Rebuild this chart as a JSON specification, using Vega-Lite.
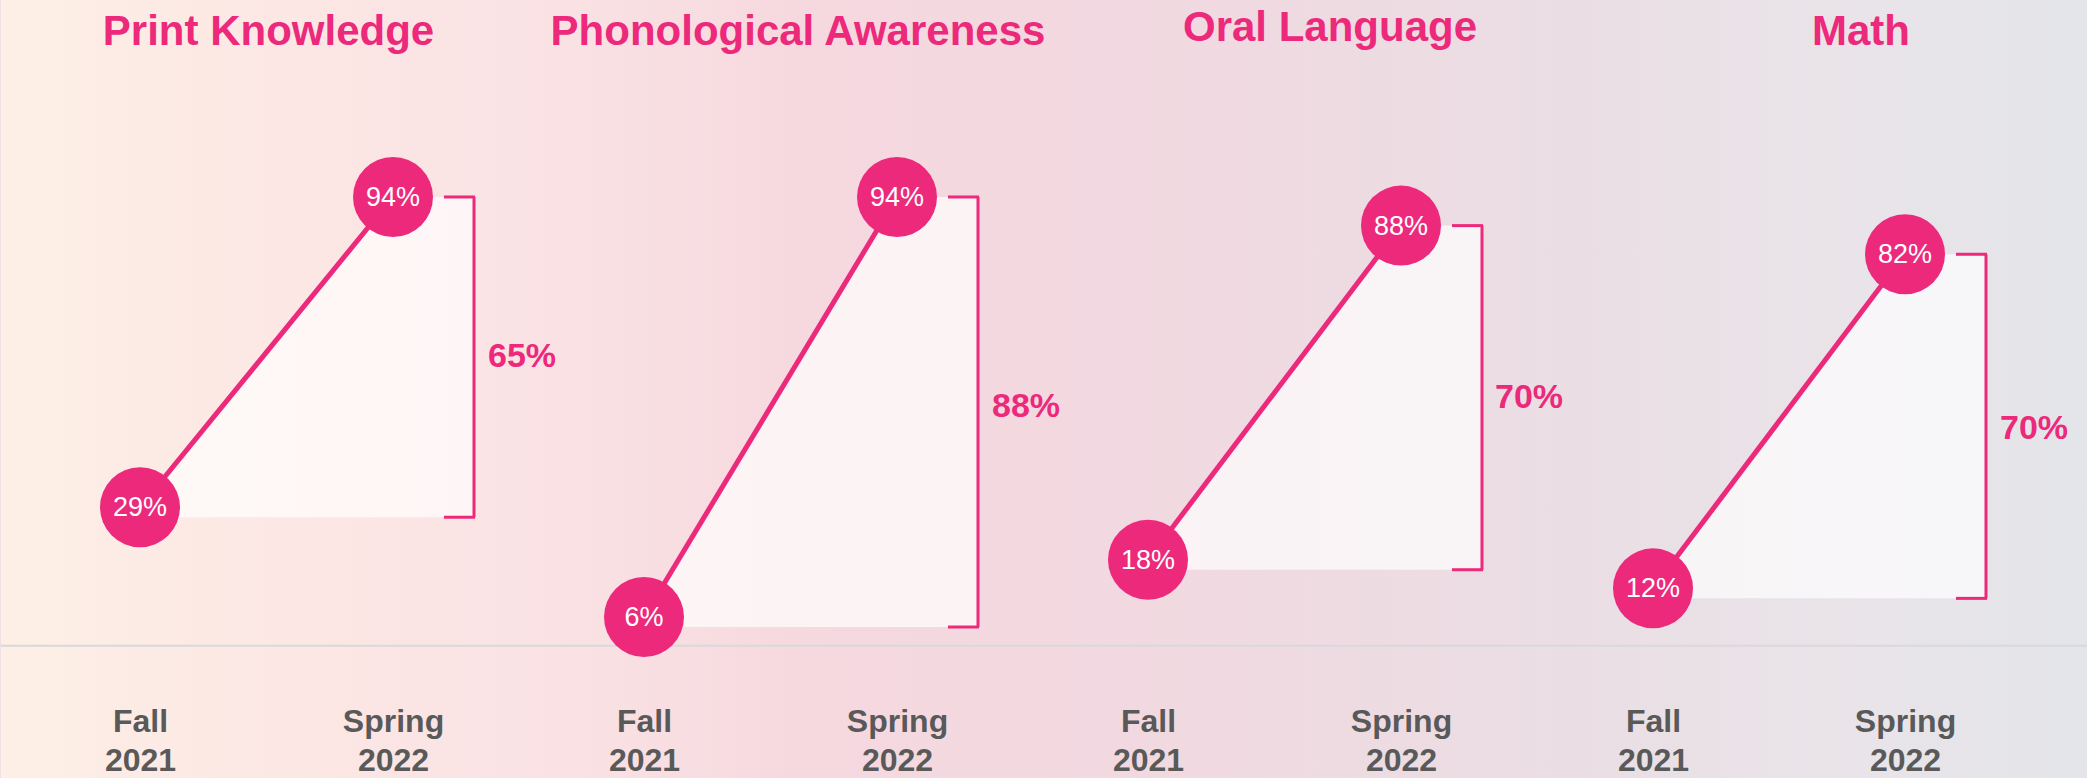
{
  "$schema": "https://vega.github.io/schema/vega-lite/v6.json",
  "background": "#f3e0e4",
  "padding": 0,
  "spacing": 0,
  "bounds": "flush",
  "data": {
    "values": [
      {"subject": "Print Knowledge", "Fall 2021": 0.29, "Spring 2022": 0.94, "change": 0.65},
      {"subject": "Phonological Awareness", "Fall 2021": 0.06, "Spring 2022": 0.94, "change": 0.88},
      {"subject": "Oral Language", "Fall 2021": 0.18, "Spring 2022": 0.88, "change": 0.70},
      {"subject": "Math", "Fall 2021": 0.12, "Spring 2022": 0.82, "change": 0.70}
    ]
  },
  "hconcat": [
    {
      "width": 565, "height": 778,
      "view": {"stroke": null, "fill": {"gradient": "linear", "x1": 0, "y1": 0, "x2": 1, "y2": 0, "stops": [{"offset": 0, "color": "#fdefe6"}, {"offset": 0.45, "color": "#fce8e4"}, {"offset": 1, "color": "#fae2e4"}]}},
      "title": {"text": "Print Knowledge", "dx": -15, "offset": -54},
      "transform": [{"filter": "datum.subject === 'Print Knowledge'"}],
      "layer": [
        {"transform": [{"fold": ["Fall 2021", "Spring 2022"], "as": ["period", "value"]}],
         "mark": {"type": "area", "color": "white", "opacity": 0.68, "y2Offset": 10},
         "encoding": {
           "x": {"field": "period", "type": "ordinal", "scale": {"type": "point", "domain": ["Fall 2021", "Spring 2022"], "range": [139, 392], "padding": 0}},
           "y": {"field": "value", "type": "quantitative", "scale": {"domain": [-0.2773, 1.3527], "nice": false, "zero": false}, "axis": null},
           "y2": {"field": "Fall 2021"}}},
        {"mark": {"type": "rect", "color": "white", "opacity": 0.68, "x2Offset": 81, "y2Offset": 10},
         "encoding": {
           "x": {"datum": "Spring 2022", "type": "ordinal", "scale": {"type": "point", "domain": ["Fall 2021", "Spring 2022"], "range": [139, 392], "padding": 0}},
           "x2": {"datum": "Spring 2022"},
           "y": {"field": "Spring 2022", "type": "quantitative", "scale": {"domain": [-0.2773, 1.3527], "nice": false, "zero": false}, "axis": null},
           "y2": {"field": "Fall 2021"}}},
        {"mark": {"type": "rule", "color": "#d8d9dd", "strokeWidth": 2},
         "encoding": {"y": {"datum": 0, "type": "quantitative", "scale": {"domain": [-0.2773, 1.3527], "nice": false, "zero": false}, "axis": null}}},
        {"mark": {"type": "rule", "color": "#EC297B", "strokeWidth": 3, "xOffset": 81, "y2Offset": 10},
         "encoding": {
           "x": {"datum": "Spring 2022", "type": "ordinal", "scale": {"type": "point", "domain": ["Fall 2021", "Spring 2022"], "range": [139, 392], "padding": 0}},
           "y": {"field": "Spring 2022", "type": "quantitative", "scale": {"domain": [-0.2773, 1.3527], "nice": false, "zero": false}, "axis": null},
           "y2": {"field": "Fall 2021"}}},
        {"mark": {"type": "rule", "color": "#EC297B", "strokeWidth": 3, "xOffset": 51, "x2Offset": 82},
         "encoding": {
           "x": {"datum": "Spring 2022", "type": "ordinal", "scale": {"type": "point", "domain": ["Fall 2021", "Spring 2022"], "range": [139, 392], "padding": 0}},
           "x2": {"datum": "Spring 2022"},
           "y": {"field": "Spring 2022", "type": "quantitative", "scale": {"domain": [-0.2773, 1.3527], "nice": false, "zero": false}, "axis": null}}},
        {"mark": {"type": "rule", "color": "#EC297B", "strokeWidth": 3, "xOffset": 51, "x2Offset": 82, "yOffset": 10},
         "encoding": {
           "x": {"datum": "Spring 2022", "type": "ordinal", "scale": {"type": "point", "domain": ["Fall 2021", "Spring 2022"], "range": [139, 392], "padding": 0}},
           "x2": {"datum": "Spring 2022"},
           "y": {"field": "Fall 2021", "type": "quantitative", "scale": {"domain": [-0.2773, 1.3527], "nice": false, "zero": false}, "axis": null}}},
        {"transform": [{"fold": ["Fall 2021", "Spring 2022"], "as": ["period", "value"]}],
         "mark": {"type": "line", "color": "#EC297B", "strokeWidth": 5},
         "encoding": {
           "x": {"field": "period", "type": "ordinal", "scale": {"type": "point", "domain": ["Fall 2021", "Spring 2022"], "range": [139, 392], "padding": 0}},
           "y": {"field": "value", "type": "quantitative", "scale": {"domain": [-0.2773, 1.3527], "nice": false, "zero": false}, "axis": null}}},
        {"transform": [{"fold": ["Fall 2021", "Spring 2022"], "as": ["period", "value"]}],
         "mark": {"type": "circle", "color": "#EC297B", "size": 6400, "opacity": 1},
         "encoding": {
           "x": {"field": "period", "type": "ordinal", "scale": {"type": "point", "domain": ["Fall 2021", "Spring 2022"], "range": [139, 392], "padding": 0}},
           "y": {"field": "value", "type": "quantitative", "scale": {"domain": [-0.2773, 1.3527], "nice": false, "zero": false}, "axis": null}}},
        {"transform": [{"fold": ["Fall 2021", "Spring 2022"], "as": ["period", "value"]}],
         "mark": {"type": "text", "color": "white", "fontSize": 27, "baseline": "middle", "dy": 1},
         "encoding": {
           "x": {"field": "period", "type": "ordinal", "scale": {"type": "point", "domain": ["Fall 2021", "Spring 2022"], "range": [139, 392], "padding": 0}},
           "y": {"field": "value", "type": "quantitative", "scale": {"domain": [-0.2773, 1.3527], "nice": false, "zero": false}, "axis": null},
           "text": {"field": "value", "type": "quantitative", "format": ".0%"}}},
        {"transform": [{"fold": ["Fall 2021", "Spring 2022"], "as": ["period", "value"]}],
         "mark": {"type": "text", "color": "#EC297B", "fontSize": 34, "fontWeight": "bold", "align": "left", "baseline": "middle", "dx": 95, "dy": 5},
         "encoding": {
           "x": {"datum": "Spring 2022", "type": "ordinal", "scale": {"type": "point", "domain": ["Fall 2021", "Spring 2022"], "range": [139, 392], "padding": 0}},
           "y": {"aggregate": "mean", "field": "value", "type": "quantitative", "scale": {"domain": [-0.2773, 1.3527], "nice": false, "zero": false}, "axis": null},
           "text": {"field": "change", "type": "quantitative", "format": ".0%"}}}
      ]
    },
    {
      "width": 504, "height": 778,
      "view": {"stroke": null, "fill": {"gradient": "linear", "x1": 0, "y1": 0, "x2": 1, "y2": 0, "stops": [{"offset": 0, "color": "#fae2e4"}, {"offset": 0.45, "color": "#f6d9df"}, {"offset": 1, "color": "#f3d8e0"}]}},
      "title": {"text": "Phonological Awareness", "dx": -20, "offset": -54},
      "transform": [{"filter": "datum.subject === 'Phonological Awareness'"}],
      "layer": [
        {"transform": [{"fold": ["Fall 2021", "Spring 2022"], "as": ["period", "value"]}],
         "mark": {"type": "area", "color": "white", "opacity": 0.68, "y2Offset": 10},
         "encoding": {
           "x": {"field": "period", "type": "ordinal", "scale": {"type": "point", "domain": ["Fall 2021", "Spring 2022"], "range": [78, 331], "padding": 0}},
           "y": {"field": "value", "type": "quantitative", "scale": {"domain": [-0.2773, 1.3527], "nice": false, "zero": false}, "axis": null},
           "y2": {"field": "Fall 2021"}}},
        {"mark": {"type": "rect", "color": "white", "opacity": 0.68, "x2Offset": 81, "y2Offset": 10},
         "encoding": {
           "x": {"datum": "Spring 2022", "type": "ordinal", "scale": {"type": "point", "domain": ["Fall 2021", "Spring 2022"], "range": [78, 331], "padding": 0}},
           "x2": {"datum": "Spring 2022"},
           "y": {"field": "Spring 2022", "type": "quantitative", "scale": {"domain": [-0.2773, 1.3527], "nice": false, "zero": false}, "axis": null},
           "y2": {"field": "Fall 2021"}}},
        {"mark": {"type": "rule", "color": "#d8d9dd", "strokeWidth": 2},
         "encoding": {"y": {"datum": 0, "type": "quantitative", "scale": {"domain": [-0.2773, 1.3527], "nice": false, "zero": false}, "axis": null}}},
        {"mark": {"type": "rule", "color": "#EC297B", "strokeWidth": 3, "xOffset": 81, "y2Offset": 10},
         "encoding": {
           "x": {"datum": "Spring 2022", "type": "ordinal", "scale": {"type": "point", "domain": ["Fall 2021", "Spring 2022"], "range": [78, 331], "padding": 0}},
           "y": {"field": "Spring 2022", "type": "quantitative", "scale": {"domain": [-0.2773, 1.3527], "nice": false, "zero": false}, "axis": null},
           "y2": {"field": "Fall 2021"}}},
        {"mark": {"type": "rule", "color": "#EC297B", "strokeWidth": 3, "xOffset": 51, "x2Offset": 82},
         "encoding": {
           "x": {"datum": "Spring 2022", "type": "ordinal", "scale": {"type": "point", "domain": ["Fall 2021", "Spring 2022"], "range": [78, 331], "padding": 0}},
           "x2": {"datum": "Spring 2022"},
           "y": {"field": "Spring 2022", "type": "quantitative", "scale": {"domain": [-0.2773, 1.3527], "nice": false, "zero": false}, "axis": null}}},
        {"mark": {"type": "rule", "color": "#EC297B", "strokeWidth": 3, "xOffset": 51, "x2Offset": 82, "yOffset": 10},
         "encoding": {
           "x": {"datum": "Spring 2022", "type": "ordinal", "scale": {"type": "point", "domain": ["Fall 2021", "Spring 2022"], "range": [78, 331], "padding": 0}},
           "x2": {"datum": "Spring 2022"},
           "y": {"field": "Fall 2021", "type": "quantitative", "scale": {"domain": [-0.2773, 1.3527], "nice": false, "zero": false}, "axis": null}}},
        {"transform": [{"fold": ["Fall 2021", "Spring 2022"], "as": ["period", "value"]}],
         "mark": {"type": "line", "color": "#EC297B", "strokeWidth": 5},
         "encoding": {
           "x": {"field": "period", "type": "ordinal", "scale": {"type": "point", "domain": ["Fall 2021", "Spring 2022"], "range": [78, 331], "padding": 0}},
           "y": {"field": "value", "type": "quantitative", "scale": {"domain": [-0.2773, 1.3527], "nice": false, "zero": false}, "axis": null}}},
        {"transform": [{"fold": ["Fall 2021", "Spring 2022"], "as": ["period", "value"]}],
         "mark": {"type": "circle", "color": "#EC297B", "size": 6400, "opacity": 1},
         "encoding": {
           "x": {"field": "period", "type": "ordinal", "scale": {"type": "point", "domain": ["Fall 2021", "Spring 2022"], "range": [78, 331], "padding": 0}},
           "y": {"field": "value", "type": "quantitative", "scale": {"domain": [-0.2773, 1.3527], "nice": false, "zero": false}, "axis": null}}},
        {"transform": [{"fold": ["Fall 2021", "Spring 2022"], "as": ["period", "value"]}],
         "mark": {"type": "text", "color": "white", "fontSize": 27, "baseline": "middle", "dy": 1},
         "encoding": {
           "x": {"field": "period", "type": "ordinal", "scale": {"type": "point", "domain": ["Fall 2021", "Spring 2022"], "range": [78, 331], "padding": 0}},
           "y": {"field": "value", "type": "quantitative", "scale": {"domain": [-0.2773, 1.3527], "nice": false, "zero": false}, "axis": null},
           "text": {"field": "value", "type": "quantitative", "format": ".0%"}}},
        {"transform": [{"fold": ["Fall 2021", "Spring 2022"], "as": ["period", "value"]}],
         "mark": {"type": "text", "color": "#EC297B", "fontSize": 34, "fontWeight": "bold", "align": "left", "baseline": "middle", "dx": 95, "dy": 0},
         "encoding": {
           "x": {"datum": "Spring 2022", "type": "ordinal", "scale": {"type": "point", "domain": ["Fall 2021", "Spring 2022"], "range": [78, 331], "padding": 0}},
           "y": {"aggregate": "mean", "field": "value", "type": "quantitative", "scale": {"domain": [-0.2773, 1.3527], "nice": false, "zero": false}, "axis": null},
           "text": {"field": "change", "type": "quantitative", "format": ".0%"}}}
      ]
    },
    {
      "width": 504, "height": 778,
      "view": {"stroke": null, "fill": {"gradient": "linear", "x1": 0, "y1": 0, "x2": 1, "y2": 0, "stops": [{"offset": 0, "color": "#f3d8e0"}, {"offset": 0.55, "color": "#eedbe2"}, {"offset": 1, "color": "#eadee4"}]}},
      "title": {"text": "Oral Language", "dx": 8, "offset": -50},
      "transform": [{"filter": "datum.subject === 'Oral Language'"}],
      "layer": [
        {"transform": [{"fold": ["Fall 2021", "Spring 2022"], "as": ["period", "value"]}],
         "mark": {"type": "area", "color": "white", "opacity": 0.68, "y2Offset": 10},
         "encoding": {
           "x": {"field": "period", "type": "ordinal", "scale": {"type": "point", "domain": ["Fall 2021", "Spring 2022"], "range": [78, 331], "padding": 0}},
           "y": {"field": "value", "type": "quantitative", "scale": {"domain": [-0.2773, 1.3527], "nice": false, "zero": false}, "axis": null},
           "y2": {"field": "Fall 2021"}}},
        {"mark": {"type": "rect", "color": "white", "opacity": 0.68, "x2Offset": 81, "y2Offset": 10},
         "encoding": {
           "x": {"datum": "Spring 2022", "type": "ordinal", "scale": {"type": "point", "domain": ["Fall 2021", "Spring 2022"], "range": [78, 331], "padding": 0}},
           "x2": {"datum": "Spring 2022"},
           "y": {"field": "Spring 2022", "type": "quantitative", "scale": {"domain": [-0.2773, 1.3527], "nice": false, "zero": false}, "axis": null},
           "y2": {"field": "Fall 2021"}}},
        {"mark": {"type": "rule", "color": "#d8d9dd", "strokeWidth": 2},
         "encoding": {"y": {"datum": 0, "type": "quantitative", "scale": {"domain": [-0.2773, 1.3527], "nice": false, "zero": false}, "axis": null}}},
        {"mark": {"type": "rule", "color": "#EC297B", "strokeWidth": 3, "xOffset": 81, "y2Offset": 10},
         "encoding": {
           "x": {"datum": "Spring 2022", "type": "ordinal", "scale": {"type": "point", "domain": ["Fall 2021", "Spring 2022"], "range": [78, 331], "padding": 0}},
           "y": {"field": "Spring 2022", "type": "quantitative", "scale": {"domain": [-0.2773, 1.3527], "nice": false, "zero": false}, "axis": null},
           "y2": {"field": "Fall 2021"}}},
        {"mark": {"type": "rule", "color": "#EC297B", "strokeWidth": 3, "xOffset": 51, "x2Offset": 82},
         "encoding": {
           "x": {"datum": "Spring 2022", "type": "ordinal", "scale": {"type": "point", "domain": ["Fall 2021", "Spring 2022"], "range": [78, 331], "padding": 0}},
           "x2": {"datum": "Spring 2022"},
           "y": {"field": "Spring 2022", "type": "quantitative", "scale": {"domain": [-0.2773, 1.3527], "nice": false, "zero": false}, "axis": null}}},
        {"mark": {"type": "rule", "color": "#EC297B", "strokeWidth": 3, "xOffset": 51, "x2Offset": 82, "yOffset": 10},
         "encoding": {
           "x": {"datum": "Spring 2022", "type": "ordinal", "scale": {"type": "point", "domain": ["Fall 2021", "Spring 2022"], "range": [78, 331], "padding": 0}},
           "x2": {"datum": "Spring 2022"},
           "y": {"field": "Fall 2021", "type": "quantitative", "scale": {"domain": [-0.2773, 1.3527], "nice": false, "zero": false}, "axis": null}}},
        {"transform": [{"fold": ["Fall 2021", "Spring 2022"], "as": ["period", "value"]}],
         "mark": {"type": "line", "color": "#EC297B", "strokeWidth": 5},
         "encoding": {
           "x": {"field": "period", "type": "ordinal", "scale": {"type": "point", "domain": ["Fall 2021", "Spring 2022"], "range": [78, 331], "padding": 0}},
           "y": {"field": "value", "type": "quantitative", "scale": {"domain": [-0.2773, 1.3527], "nice": false, "zero": false}, "axis": null}}},
        {"transform": [{"fold": ["Fall 2021", "Spring 2022"], "as": ["period", "value"]}],
         "mark": {"type": "circle", "color": "#EC297B", "size": 6400, "opacity": 1},
         "encoding": {
           "x": {"field": "period", "type": "ordinal", "scale": {"type": "point", "domain": ["Fall 2021", "Spring 2022"], "range": [78, 331], "padding": 0}},
           "y": {"field": "value", "type": "quantitative", "scale": {"domain": [-0.2773, 1.3527], "nice": false, "zero": false}, "axis": null}}},
        {"transform": [{"fold": ["Fall 2021", "Spring 2022"], "as": ["period", "value"]}],
         "mark": {"type": "text", "color": "white", "fontSize": 27, "baseline": "middle", "dy": 1},
         "encoding": {
           "x": {"field": "period", "type": "ordinal", "scale": {"type": "point", "domain": ["Fall 2021", "Spring 2022"], "range": [78, 331], "padding": 0}},
           "y": {"field": "value", "type": "quantitative", "scale": {"domain": [-0.2773, 1.3527], "nice": false, "zero": false}, "axis": null},
           "text": {"field": "value", "type": "quantitative", "format": ".0%"}}},
        {"transform": [{"fold": ["Fall 2021", "Spring 2022"], "as": ["period", "value"]}],
         "mark": {"type": "text", "color": "#EC297B", "fontSize": 34, "fontWeight": "bold", "align": "left", "baseline": "middle", "dx": 94, "dy": 5},
         "encoding": {
           "x": {"datum": "Spring 2022", "type": "ordinal", "scale": {"type": "point", "domain": ["Fall 2021", "Spring 2022"], "range": [78, 331], "padding": 0}},
           "y": {"aggregate": "mean", "field": "value", "type": "quantitative", "scale": {"domain": [-0.2773, 1.3527], "nice": false, "zero": false}, "axis": null},
           "text": {"field": "change", "type": "quantitative", "format": ".0%"}}}
      ]
    },
    {
      "width": 514, "height": 778,
      "view": {"stroke": null, "fill": {"gradient": "linear", "x1": 0, "y1": 0, "x2": 1, "y2": 0, "stops": [{"offset": 0, "color": "#eadee4"}, {"offset": 0.55, "color": "#e9e4e9"}, {"offset": 1, "color": "#e3e5e9"}]}},
      "title": {"text": "Math", "dx": 30, "offset": -54},
      "transform": [{"filter": "datum.subject === 'Math'"}],
      "layer": [
        {"transform": [{"fold": ["Fall 2021", "Spring 2022"], "as": ["period", "value"]}],
         "mark": {"type": "area", "color": "white", "opacity": 0.68, "y2Offset": 10},
         "encoding": {
           "x": {"field": "period", "type": "ordinal", "scale": {"type": "point", "domain": ["Fall 2021", "Spring 2022"], "range": [79, 331], "padding": 0}},
           "y": {"field": "value", "type": "quantitative", "scale": {"domain": [-0.2773, 1.3527], "nice": false, "zero": false}, "axis": null},
           "y2": {"field": "Fall 2021"}}},
        {"mark": {"type": "rect", "color": "white", "opacity": 0.68, "x2Offset": 81, "y2Offset": 10},
         "encoding": {
           "x": {"datum": "Spring 2022", "type": "ordinal", "scale": {"type": "point", "domain": ["Fall 2021", "Spring 2022"], "range": [79, 331], "padding": 0}},
           "x2": {"datum": "Spring 2022"},
           "y": {"field": "Spring 2022", "type": "quantitative", "scale": {"domain": [-0.2773, 1.3527], "nice": false, "zero": false}, "axis": null},
           "y2": {"field": "Fall 2021"}}},
        {"mark": {"type": "rule", "color": "#d8d9dd", "strokeWidth": 2},
         "encoding": {"y": {"datum": 0, "type": "quantitative", "scale": {"domain": [-0.2773, 1.3527], "nice": false, "zero": false}, "axis": null}}},
        {"mark": {"type": "rule", "color": "#EC297B", "strokeWidth": 3, "xOffset": 81, "y2Offset": 10},
         "encoding": {
           "x": {"datum": "Spring 2022", "type": "ordinal", "scale": {"type": "point", "domain": ["Fall 2021", "Spring 2022"], "range": [79, 331], "padding": 0}},
           "y": {"field": "Spring 2022", "type": "quantitative", "scale": {"domain": [-0.2773, 1.3527], "nice": false, "zero": false}, "axis": null},
           "y2": {"field": "Fall 2021"}}},
        {"mark": {"type": "rule", "color": "#EC297B", "strokeWidth": 3, "xOffset": 51, "x2Offset": 82},
         "encoding": {
           "x": {"datum": "Spring 2022", "type": "ordinal", "scale": {"type": "point", "domain": ["Fall 2021", "Spring 2022"], "range": [79, 331], "padding": 0}},
           "x2": {"datum": "Spring 2022"},
           "y": {"field": "Spring 2022", "type": "quantitative", "scale": {"domain": [-0.2773, 1.3527], "nice": false, "zero": false}, "axis": null}}},
        {"mark": {"type": "rule", "color": "#EC297B", "strokeWidth": 3, "xOffset": 51, "x2Offset": 82, "yOffset": 10},
         "encoding": {
           "x": {"datum": "Spring 2022", "type": "ordinal", "scale": {"type": "point", "domain": ["Fall 2021", "Spring 2022"], "range": [79, 331], "padding": 0}},
           "x2": {"datum": "Spring 2022"},
           "y": {"field": "Fall 2021", "type": "quantitative", "scale": {"domain": [-0.2773, 1.3527], "nice": false, "zero": false}, "axis": null}}},
        {"transform": [{"fold": ["Fall 2021", "Spring 2022"], "as": ["period", "value"]}],
         "mark": {"type": "line", "color": "#EC297B", "strokeWidth": 5},
         "encoding": {
           "x": {"field": "period", "type": "ordinal", "scale": {"type": "point", "domain": ["Fall 2021", "Spring 2022"], "range": [79, 331], "padding": 0}},
           "y": {"field": "value", "type": "quantitative", "scale": {"domain": [-0.2773, 1.3527], "nice": false, "zero": false}, "axis": null}}},
        {"transform": [{"fold": ["Fall 2021", "Spring 2022"], "as": ["period", "value"]}],
         "mark": {"type": "circle", "color": "#EC297B", "size": 6400, "opacity": 1},
         "encoding": {
           "x": {"field": "period", "type": "ordinal", "scale": {"type": "point", "domain": ["Fall 2021", "Spring 2022"], "range": [79, 331], "padding": 0}},
           "y": {"field": "value", "type": "quantitative", "scale": {"domain": [-0.2773, 1.3527], "nice": false, "zero": false}, "axis": null}}},
        {"transform": [{"fold": ["Fall 2021", "Spring 2022"], "as": ["period", "value"]}],
         "mark": {"type": "text", "color": "white", "fontSize": 27, "baseline": "middle", "dy": 1},
         "encoding": {
           "x": {"field": "period", "type": "ordinal", "scale": {"type": "point", "domain": ["Fall 2021", "Spring 2022"], "range": [79, 331], "padding": 0}},
           "y": {"field": "value", "type": "quantitative", "scale": {"domain": [-0.2773, 1.3527], "nice": false, "zero": false}, "axis": null},
           "text": {"field": "value", "type": "quantitative", "format": ".0%"}}},
        {"transform": [{"fold": ["Fall 2021", "Spring 2022"], "as": ["period", "value"]}],
         "mark": {"type": "text", "color": "#EC297B", "fontSize": 34, "fontWeight": "bold", "align": "left", "baseline": "middle", "dx": 95, "dy": 8},
         "encoding": {
           "x": {"datum": "Spring 2022", "type": "ordinal", "scale": {"type": "point", "domain": ["Fall 2021", "Spring 2022"], "range": [79, 331], "padding": 0}},
           "y": {"aggregate": "mean", "field": "value", "type": "quantitative", "scale": {"domain": [-0.2773, 1.3527], "nice": false, "zero": false}, "axis": null},
           "text": {"field": "change", "type": "quantitative", "format": ".0%"}}}
      ]
    }
  ],
  "config": {
    "view": {"stroke": null},
    "font": "Liberation Sans",
    "text": {"font": "Liberation Sans"},
    "title": {"font": "Liberation Sans", "fontSize": 42, "fontWeight": "bold", "color": "#EC297B", "anchor": "middle", "frame": "group", "baseline": "alphabetic"},
    "axisX": {
      "title": null,
      "domain": false,
      "ticks": false,
      "tickSize": 0,
      "grid": false,
      "labelAngle": 0,
      "labelExpr": "split(datum.label, ' ')",
      "labelFont": "Liberation Sans",
      "labelFontWeight": "bold",
      "labelFontSize": 32,
      "labelColor": "#595959",
      "labelLineHeight": 39,
      "labelBaseline": "top",
      "labelPadding": 59,
      "offset": -131
    }
  }
}
